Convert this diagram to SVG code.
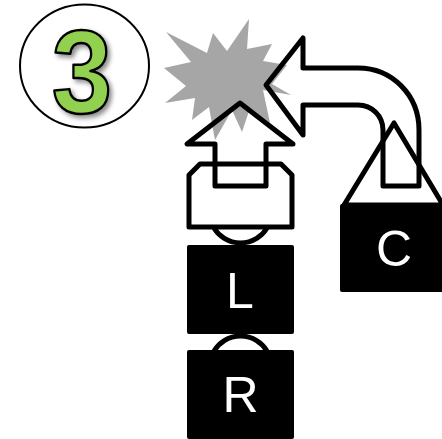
<svg xmlns="http://www.w3.org/2000/svg" width="442" height="439" viewBox="0 0 442 439">
<style>
.o{fill:none;stroke:#000;stroke-width:5;stroke-linejoin:round}
.k{fill:#000;stroke:none}
.t{font-family:"Liberation Sans",Arial,sans-serif;font-size:50px;fill:#fff;text-anchor:middle}
</style>
<defs>
<filter id="sh" x="-30%" y="-30%" width="170%" height="170%">
<feDropShadow dx="3" dy="3" stdDeviation="2.5" flood-color="#000" flood-opacity="0.45"/>
</filter>
</defs>
<rect width="442" height="439" fill="#fff"/>
<g id="badge">
<ellipse cx="84.5" cy="66" rx="64.5" ry="61.5" fill="#fff" stroke="#000" stroke-width="2"/>
<text transform="translate(82,113) scale(.92,1)" text-anchor="middle" font-family="'Liberation Sans',Arial,sans-serif" font-weight="700" font-size="118" fill="#92D050" stroke="#000" stroke-width="2.5" stroke-linejoin="round" filter="url(#sh)">3</text>
</g>
<g id="burst">
<polygon fill="#a6a6a6" points="166,32 207,53 213,33 227,51 249,19 247,49 272,44 263,61 287,65 272,84 291,95 263,90 270,123 250,108 242,132 232,110 215,140 209,107 192,120 195,98 165,103 186,86 164,68 191,62"/>
</g>
<g id="connectors">
<path class="o" d="M240,103 L187,144 H215 V186 H266 V144 H293 Z"/>
<path class="o" d="M266,85 L303,38 V68 H358 C392,68 419,95 419,130 V186 H383 V130 C383,116 372,105 358,105 H303 V135 Z"/>
</g>
<g id="node-L">
<path class="o" d="M214,228 A31,31 0 0 0 267,228"/>
<path class="o" d="M200,164 H281 L292,175 V227 H189 V175 Z"/>
<rect class="k" x="187" y="245" width="107" height="89" rx="2"/>
<text class="t" x="240" y="308">L</text>
</g>
<g id="node-R">
<path class="o" d="M214,351 A31,31 0 0 1 267,351"/>
<rect class="k" x="187" y="350" width="107" height="89" rx="2"/>
<text class="t" x="240.500" y="412">R</text>
</g>
<g id="node-C">
<path class="o" d="M394,123 L344,205 H443 Z"/>
<rect class="k" x="340" y="204" width="106" height="88" rx="2"/>
<text class="t" x="394" y="266">C</text>
</g>
</svg>
